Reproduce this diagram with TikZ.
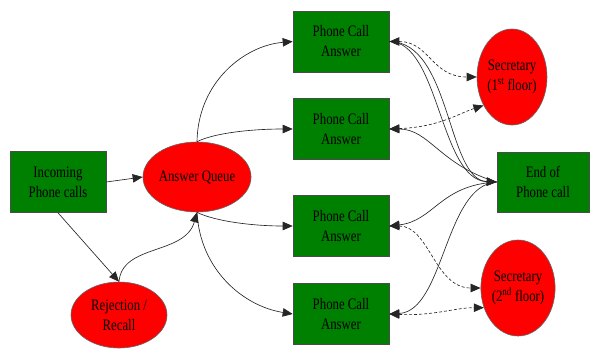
\documentclass[tikz,border=0pt]{standalone}
\usepackage{fontspec}
\setmainfont{Liberation Serif}[FakeStretch=0.8]
\usetikzlibrary{shapes.geometric,arrows.meta}
\definecolor{boxgreen}{RGB}{0,128,0}
\definecolor{ellred}{RGB}{255,0,0}
\begin{document}
\begin{tikzpicture}[x=1pt,y=-1pt,
  lbl/.style={align=center,font=\fontsize{16}{20}\selectfont},
  box/.style={lbl,draw=black!70,fill=boxgreen,line width=0.6pt,minimum width=96pt,minimum height=61pt,inner sep=0pt},
  oval/.style={lbl,ellipse,draw=black!60,fill=ellred,line width=0.6pt,inner sep=0pt},
  tip/.tip={Triangle[length=10pt,width=8.5pt]},
  conn/.style={line width=0.65pt,draw=black!85,-tip},
  dconn/.style={line width=0.65pt,draw=black!85,dash pattern=on 3pt off 2pt,tip-tip}]
\useasboundingbox (0,0) rectangle (592,349);
% nodes
\node[box] (inc) at (58,182) {Incoming\\Phone calls};
\node[oval,minimum width=96pt,minimum height=70pt] (aq) at (197,177) {Answer Queue};
\node[oval,minimum width=96pt,minimum height=66pt] (rej) at (119,315) {Rejection /\\Recall};
\node[box] (p1) at (341,41.5) {Phone Call\\Answer};
\node[box] (p2) at (341,129) {Phone Call\\Answer};
\node[box] (p3) at (341,226) {Phone Call\\Answer};
\node[box] (p4) at (341,314) {Phone Call\\Answer};
\node[oval,minimum width=66pt,minimum height=96pt] (s1) at (512,77) {Secretary\\(1\textsuperscript{st} floor)};
\node[oval,minimum width=66pt,minimum height=96pt] (s2) at (518,288) {Secretary\\(2\textsuperscript{nd} floor)};
\node[box,minimum width=92pt,minimum height=60pt] (end) at (543,182) {End of\\Phone call};
% left connectors
\draw[conn] (inc.east) -- (aq.west);
\draw[conn] (inc.south) -- (rej.north);
\draw[conn] (rej.north) .. controls +(3,-38) and +(-12,43) .. (aq.south);
\draw[conn] (aq.north) .. controls +(1,-60) and +(-48,4) .. (p1.west);
\draw[conn] (aq.north) .. controls +(18,-9) and +(-40,0) .. (p2.west);
\draw[conn] (aq.south) .. controls +(18,9) and +(-40,0) .. (p3.west);
\draw[conn] (aq.south) .. controls +(3,57) and +(-50,-8) .. (p4.west);
% dashed connectors to secretaries
\draw[dconn] (p1.east) .. controls +(40,0) and +(-45,0) .. (s1.west);
\draw[dconn] (p2.east) .. controls +(50,-2) and +(-25,8) .. (s1.-135);
\draw[dconn] (p3.east) .. controls +(40,0) and +(-46,0) .. (s2.west);
\draw[dconn] (p4.east) .. controls +(45,2) and +(-30,0) .. (s2.-150);
% solid connectors to end
\draw[conn] (p1.east) .. controls +(50,0) and +(-57,-2) .. (end.west);
\draw[conn] (p1.east) .. controls +(62,0) and +(-50,-2) .. (end.west);
\draw[conn] (end.west) .. controls +(-57,-17) and +(40,0) .. (p2.east);
\draw[conn] (end.west) .. controls +(-57,3) and +(45,-5) .. (p3.east);
\draw[conn] (end.west) .. controls +(-52,3) and +(55,-3) .. (p4.east);
\end{tikzpicture}
\end{document}
